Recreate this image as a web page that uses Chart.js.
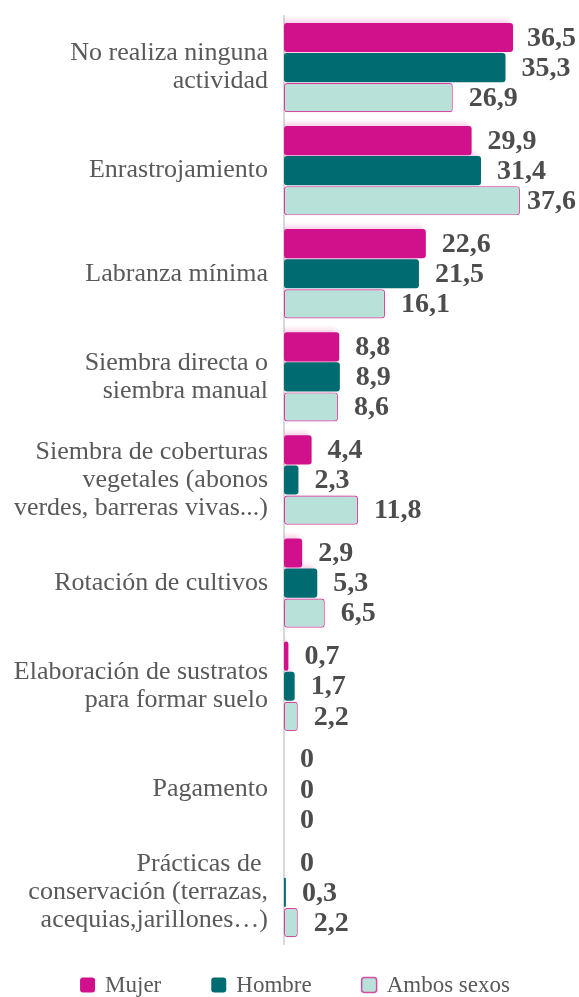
<!DOCTYPE html>
<html>
<head>
<meta charset="utf-8">
<script src="https://cdn.jsdelivr.net/npm/chart.js@4.4.1/dist/chart.umd.min.js"></script>
<style>
  html, body { margin: 0; padding: 0; background: #fff; }
  #wrap { width: 579px; height: 997px; position: relative; }
</style>
</head>
<body>
<div id="wrap"><canvas id="practicasChart"></canvas></div>
<script>
const categories = [
  ['No realiza ninguna', 'actividad'],
  'Enrastrojamiento',
  'Labranza mínima',
  ['Siembra directa o', 'siembra manual'],
  ['Siembra de coberturas', 'vegetales (abonos', 'verdes, barreras vivas...)'],
  'Rotación de cultivos',
  ['Elaboración de sustratos', 'para formar suelo'],
  'Pagamento',
  ['Prácticas de ', 'conservación (terrazas,', 'acequias,jarillones…)']
];
const mujer = [36.5, 29.9, 22.6, 8.8, 4.4, 2.9, 0.7, 0, 0];
const hombre = [35.3, 31.4, 21.5, 8.9, 2.3, 5.3, 1.7, 0, 0.3];
const ambos = [26.9, 37.6, 16.1, 8.6, 11.8, 6.5, 2.2, 0, 2.2];
const seriesNames = ['Mujer', 'Hombre', 'Ambos sexos'];

const MAGENTA = '#d0118b';
const TEAL = '#006b70';
const MINT = '#b8e2d9';
const MINT_EDGE = '#d54ca3';
const SERIF = '"Liberation Serif", "DejaVu Serif", serif';

const canvas = document.getElementById('practicasChart');
const ctx = canvas.getContext('2d');

// numbers at the end of each bar
const valueLabels = {
  id: 'valueLabels',
  afterDatasetsDraw(chart) {
    const c = chart.ctx;
    c.save();
    c.font = 'bold 28px ' + SERIF;
    c.fillStyle = '#4d4d4d';
    c.textBaseline = 'middle';
    c.textAlign = 'left';
    chart.data.datasets.forEach((ds, i) => {
      chart.getDatasetMeta(i).data.forEach((bar, j) => {
        const txt = String(ds.data[j]).replace('.', ',');
        const w = c.measureText(txt).width;
        const x = Math.min(bar.x + 16, chart.width - 3 - w);
        c.fillText(txt, x, bar.y + 1);
      });
    });
    c.restore();
  }
};

// faint pink glow behind the bars
const barGlow = {
  id: 'barGlow',
  beforeDatasetsDraw(chart) {
    chart.ctx.save();
    chart.ctx.shadowColor = 'rgba(214, 22, 139, 0.2)';
    chart.ctx.shadowBlur = 5;
    chart.ctx.shadowOffsetX = -3;
    chart.ctx.shadowOffsetY = -3;
  },
  afterDatasetsDraw(chart) {
    chart.ctx.restore();
  }
};

// legend row under the plot
const bottomLegend = {
  id: 'bottomLegend',
  afterDraw(chart) {
    const c = chart.ctx;
    const box = 15, gapText = 10, gapItem = 50;
    c.save();
    c.font = '23px ' + SERIF;
    c.textBaseline = 'middle';
    const items = chart.data.datasets.map(ds => ({
      text: ds.label,
      fill: ds.backgroundColor,
      edge: ds.borderWidth ? ds.borderColor : null,
      w: box + gapText + c.measureText(ds.label).width
    }));
    const total = items.reduce((s, it) => s + it.w, 0) + gapItem * (items.length - 1);
    let x = 295 - total / 2;
    const y = 985;
    items.forEach(it => {
      c.beginPath();
      c.roundRect(x, y - box / 2, box, box, 3);
      c.fillStyle = it.fill;
      c.fill();
      if (it.edge) {
        c.lineWidth = 1.5;
        c.strokeStyle = it.edge;
        c.stroke();
      }
      c.fillStyle = '#595959';
      c.fillText(it.text, x + box + gapText, y + 1);
      x += it.w + gapItem;
    });
    c.restore();
  }
};

const chart = new Chart(ctx, {
  type: 'bar',
  data: {
    labels: categories,
    datasets: [
      { label: seriesNames[0], data: mujer, backgroundColor: MAGENTA, borderColor: MAGENTA, borderWidth: 0 },
      { label: seriesNames[1], data: hombre, backgroundColor: TEAL, borderColor: TEAL, borderWidth: 0 },
      { label: seriesNames[2], data: ambos, backgroundColor: MINT, borderColor: MINT_EDGE, borderWidth: 1.2 }
    ]
  },
  options: {
    indexAxis: 'y',
    responsive: true,
    maintainAspectRatio: false,
    animation: false,
    layout: { padding: { top: 16, right: 44, bottom: 53, left: 0 } },
    datasets: {
      bar: {
        categoryPercentage: 0.875,
        barPercentage: 0.97,
        borderRadius: 3,
        borderSkipped: false
      }
    },
    scales: {
      x: {
        min: 0,
        max: 40,
        display: false,
        grid: { display: false }
      },
      y: {
        grid: { display: false, drawTicks: false },
        border: { display: true, color: '#d9d9d9', width: 2 },
        ticks: {
          padding: 16,
          color: '#595959',
          font: { family: SERIF, size: 26, lineHeight: 1.08 }
        },
        afterFit(scale) {
          scale.width = 284;
          scale.paddingTop = 0;
          scale.paddingBottom = 0;
        }
      }
    },
    plugins: {
      tooltip: { enabled: false },
      legend: { display: false }
    }
  },
  plugins: [barGlow, valueLabels, bottomLegend]
});
</script>
</body>
</html>
